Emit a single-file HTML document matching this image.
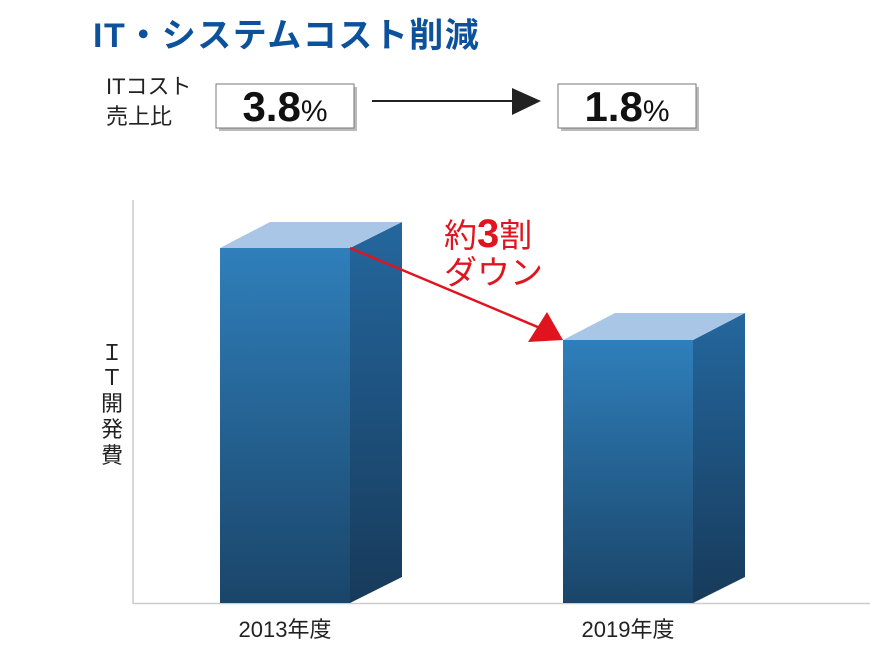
<!DOCTYPE html>
<html><head><meta charset="utf-8"><style>
body{margin:0;background:#fff;width:870px;height:647px;overflow:hidden;font-family:"Liberation Sans","Noto Sans CJK JP",sans-serif}
</style></head><body>
<svg width="870" height="647" viewBox="0 0 870 647" xmlns="http://www.w3.org/2000/svg" font-family="Liberation Sans, Noto Sans CJK JP, sans-serif">
<defs>
<linearGradient id="f" x1="0" y1="0" x2="0" y2="1"><stop offset="0" stop-color="#2f7fbb"/><stop offset="1" stop-color="#1a4569"/></linearGradient>
<linearGradient id="s" x1="0" y1="0" x2="0" y2="1"><stop offset="0" stop-color="#24679e"/><stop offset="1" stop-color="#173a5a"/></linearGradient>
</defs>
<text x="93" y="47" font-size="34" font-weight="bold" letter-spacing="1.5" fill="#0b519c">IT・システムコスト削減</text>
<text x="106" y="94" font-size="22" fill="#222">ITコスト</text>
<text x="106" y="124" font-size="22" fill="#222">売上比</text>
<rect x="219" y="87" width="138" height="44" fill="#bbb"/>
<rect x="216" y="84" width="138" height="44" fill="#fff" stroke="#777" stroke-width="1"/>
<text x="285" y="121" text-anchor="middle" font-weight="bold" fill="#111"><tspan font-size="42">3.8</tspan><tspan font-size="30" font-weight="normal">%</tspan></text>
<rect x="561" y="87" width="138" height="44" fill="#bbb"/>
<rect x="558" y="84" width="138" height="44" fill="#fff" stroke="#777" stroke-width="1"/>
<text x="627" y="121" text-anchor="middle" font-weight="bold" fill="#111"><tspan font-size="42">1.8</tspan><tspan font-size="30" font-weight="normal">%</tspan></text>
<line x1="372" y1="101" x2="515" y2="101" stroke="#222" stroke-width="2"/>
<polygon points="512,88 541,101 512,115" fill="#222"/>
<line x1="133" y1="200" x2="133" y2="604" stroke="#ccc" stroke-width="1.5"/>
<line x1="133" y1="603.5" x2="870" y2="603.5" stroke="#ccc" stroke-width="1.5"/>
<polygon points="350,248 402,222 402,577 350,603" fill="url(#s)"/>
<rect x="220" y="248" width="130" height="355" fill="url(#f)"/>
<polygon points="220,248 270,222 402,222 350,248" fill="#a9c6e6"/>
<polygon points="693,340 745,313 745,577 693,603" fill="url(#s)"/>
<rect x="563" y="340" width="130" height="263" fill="url(#f)"/>
<polygon points="563,340 615,313 745,313 693,340" fill="#a9c6e6"/>
<line x1="350" y1="248" x2="540" y2="328" stroke="#e0141e" stroke-width="2.5"/>
<polygon points="528,342 547,312 563,340" fill="#e0141e"/>
<text x="444" y="247" font-size="33" fill="#e0141e">約<tspan font-size="40" font-weight="bold">3</tspan>割</text>
<text x="444" y="284" font-size="33" fill="#e0141e">ダウン</text>
<text x="112" y="360" font-size="22" text-anchor="middle" fill="#222">Ｉ</text>
<text x="112" y="385" font-size="22" text-anchor="middle" fill="#222">Ｔ</text>
<text x="112" y="411" font-size="22" text-anchor="middle" fill="#222">開</text>
<text x="112" y="437" font-size="22" text-anchor="middle" fill="#222">発</text>
<text x="112" y="463" font-size="22" text-anchor="middle" fill="#222">費</text>
<text x="285" y="637" font-size="22" text-anchor="middle" fill="#222">2013年度</text>
<text x="628" y="637" font-size="22" text-anchor="middle" fill="#222">2019年度</text>
</svg>
</body></html>
